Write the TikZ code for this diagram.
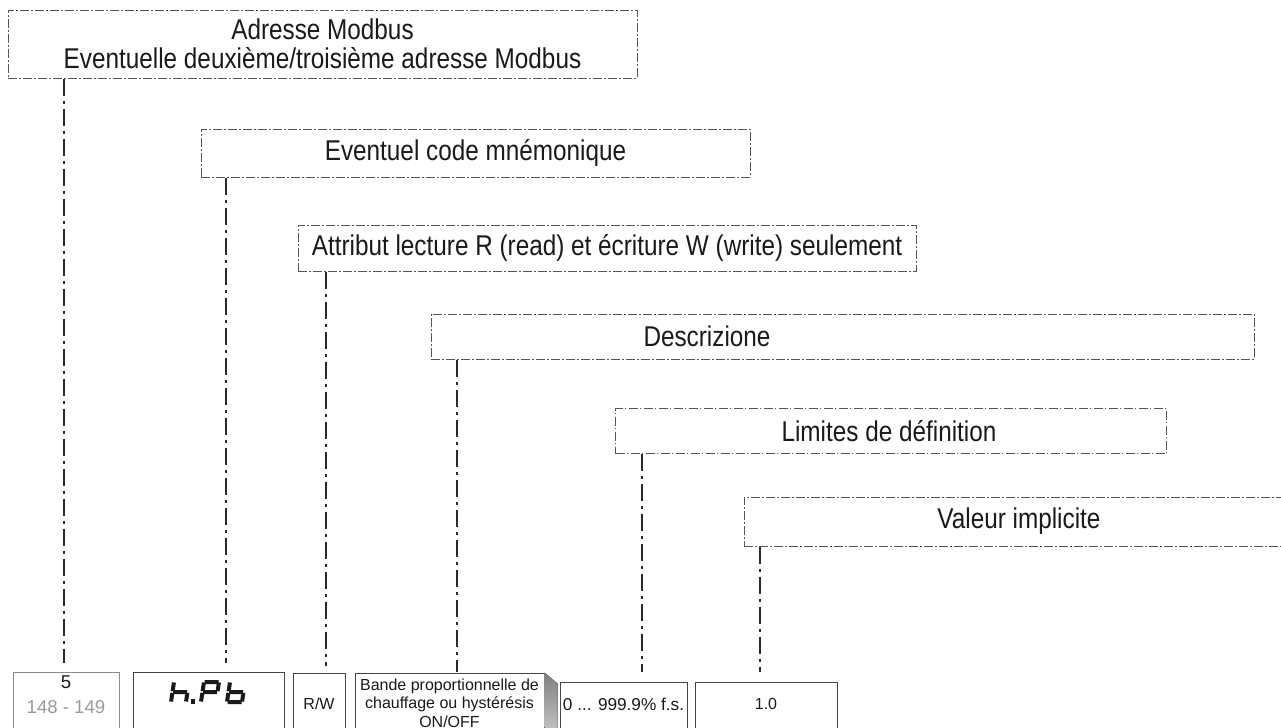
\documentclass[tikz,border=0pt]{standalone}
\usepackage{fontspec}
\setmainfont{Liberation Sans}
\newfontfamily\lblfont{Liberation Sans}[FakeStretch=0.85]
\definecolor{boxline}{HTML}{555555}
\definecolor{connline}{HTML}{2A2A2A}
\definecolor{inktext}{HTML}{1A1A1A}
\definecolor{cellline}{HTML}{444444}
\definecolor{cellpale}{HTML}{8A8A8A}
\definecolor{numpale}{HTML}{9A9A9A}
\definecolor{shade}{HTML}{BDBDBD}
\begin{document}
\begin{tikzpicture}[x=0.5pt,y=-0.5pt,
  lbl/.style={draw=boxline, line width=0.5pt,
    dash pattern=on 4.5pt off 1.1pt on 0.8pt off 1.1pt,
    inner sep=0pt, text=inktext, font=\lblfont\fontsize{14.3}{14.5}\selectfont},
  lbltext/.style={inner sep=0pt, text=inktext, font=\lblfont\fontsize{14.3}{14.5}\selectfont},
  conn/.style={draw=connline, line width=1.35pt,
    dash pattern=on 8.5pt off 2.5pt on 1.5pt off 2.5pt},
  cell/.style={draw=cellline, line width=0.5pt, inner sep=0pt},
  small/.style={inner sep=0pt, text=inktext, font=\fontsize{8}{9.5}\selectfont},
  seg/.style={draw=inktext, line width=2pt}]
\useasboundingbox (0,0) rectangle (1281,728);
\clip (0,0) rectangle (1281,728);
\fill[white] (0,0) rectangle (1281,728);

% dash-dot caption boxes
\node[lbl, minimum width=314.5pt, minimum height=34pt, align=center] (adr) at (322.5,44)
  {Adresse Modbus\\Eventuelle deuxième/troisième adresse Modbus};
\node[lbl, minimum width=274.5pt, minimum height=24pt] (mne) at (475.5,153)
  {Eventuel code mnémonique};
\node[lbl, minimum width=309pt, minimum height=23pt] (att) at (607,248)
  {Attribut lecture R (read) et écriture W (write) seulement};
\node[lbl, minimum width=411.5pt, minimum height=22.5pt] (dsc) at (842.5,336.5) {};
\node[lbltext] (dsctxt) at (707,336.5) {Descrizione};
\node[lbl, minimum width=275.5pt, minimum height=22.5pt] (lim) at (891,431) {};
\node[lbltext] (limtxt) at (889,431) {Limites de définition};
\node[lbl, minimum width=273pt, minimum height=24.5pt] (val) at (1017,521.5) {};
\node[lbltext] (valtxt) at (1019,521.5) {Valeur implicite};

% table cells (cut by the lower edge)
\node[cell, draw=cellpale, minimum width=53pt, minimum height=44pt] (cA) at (66,716) {};
\node[cell, minimum width=75.5pt, minimum height=44pt] (cB) at (208.5,716) {};
\node[cell, minimum width=26pt, minimum height=43.5pt] (cC) at (319,716.5) {};
\node[cell, minimum width=94.5pt, minimum height=43.5pt] (cD) at (449.5,716.5) {};
\node[cell, minimum width=63.5pt, minimum height=39pt] (cE) at (623.5,721) {};
\node[cell, minimum width=71pt, minimum height=39pt] (cF) at (766,721) {};

% shading beside the description cell
\fill[shade] (cD.north east) -- ++(13,11) -- ++(0,100) -| (cD.north east);

% cell contents
\node[inner sep=0pt, anchor=base, text=inktext, font=\fontsize{9.3}{11}\selectfont] (vA1) at (66,688) {5};
\node[inner sep=0pt, anchor=base, text=numpale, font=\fontsize{9.3}{11}\selectfont] (vA2) at (66,713) {148 - 149};
\node[small] (vC) at (319,704) {R/W};
\node[small, align=center, font=\fontsize{8}{9.3}\selectfont] (vD) at (449.5,703)
  {Bande proportionnelle de\\chauffage ou hystérésis\\ON/OFF};
\node[small, font=\fontsize{8.6}{10}\selectfont] (vE) at (623.5,704) {0 ... 999.9\% f.s.};
\node[small] (vF) at (766,704) {1.0};

% seven-segment display: h.Pb
\begin{scope}[shift={(171,702)}, xslant=0.15]
  \draw[seg] (0,-19.5) -- (0,-10.8) (0,-9.2) -- (0,-0.5)
             (0.5,-10) -- (14.5,-10) (15,-9.2) -- (15,-0.5);
\end{scope}
\fill[inktext] (190.5,699) rectangle (194.5,703.5);
\begin{scope}[shift={(201,702)}, xslant=0.15]
  \draw[seg] (0.5,-20) -- (14.5,-20) (15,-19.5) -- (15,-10.8)
             (0,-19.5) -- (0,-10.8) (0,-9.2) -- (0,-0.5)
             (0.5,-10) -- (14.5,-10);
\end{scope}
\begin{scope}[shift={(227,702)}, xslant=0.15]
  \draw[seg] (0,-19.5) -- (0,-10.8) (0,-9.2) -- (0,-0.5)
             (0.5,-10) -- (14.5,-10) (15,-9.2) -- (15,-0.5)
             (0.5,0) -- (14.5,0);
\end{scope}

% leader lines
\coordinate (e1) at (64,663);
\coordinate (e2) at (226,663);
\coordinate (e3) at (326,666);
\coordinate (e4) at (457,672);
\coordinate (e5) at (642,672);
\coordinate (e6) at (760,672);
\draw[conn] (adr.south -| e1) -- (e1);
\draw[conn] (mne.south -| e2) -- (e2);
\draw[conn] (att.south -| e3) -- (e3);
\draw[conn] (dsc.south -| e4) -- (e4);
\draw[conn] (lim.south -| e5) -- (e5);
\draw[conn] (val.south -| e6) -- (e6);
\end{tikzpicture}
\end{document}
